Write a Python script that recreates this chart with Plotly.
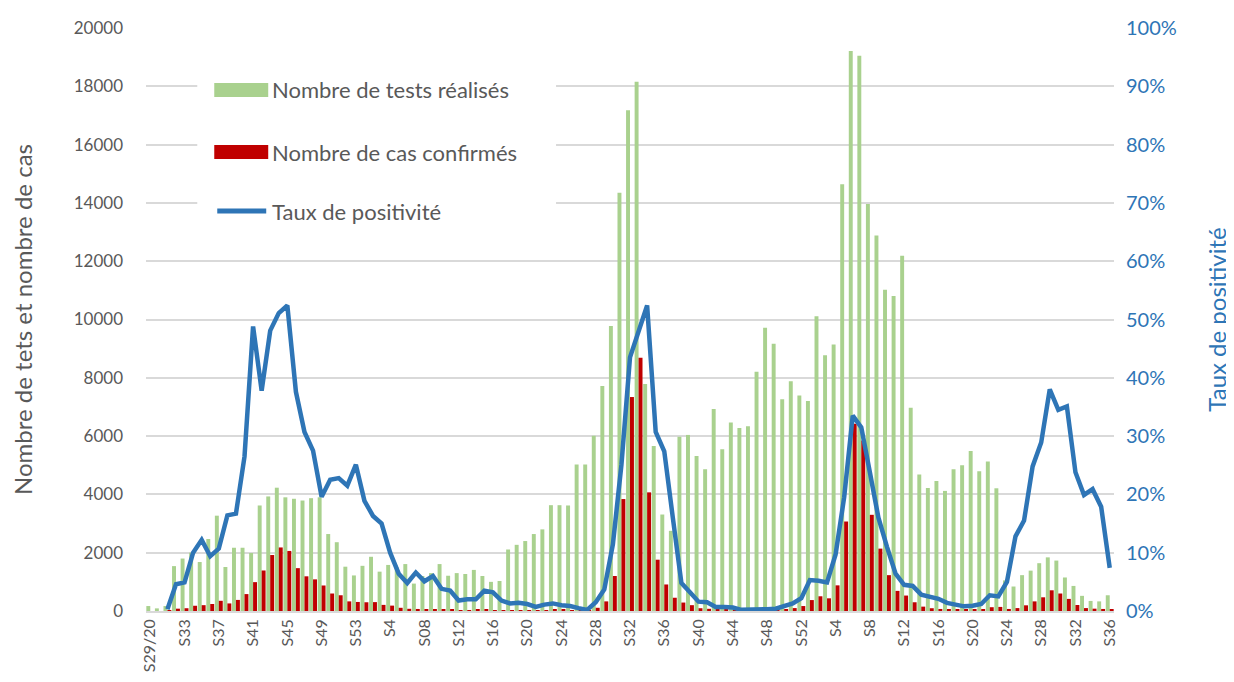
import plotly.graph_objects as go

# ---------------- data ----------------
weeks = ([f"S{w}/20" for w in range(29, 54)] +
         [f"S{w}/21" for w in range(1, 53)] +
         [f"S{w}/22" for w in range(1, 37)])

tick_labels = ["S29/20", "S33", "S37", "S41", "S45", "S49", "S53", "S4", "S08", "S12",
               "S16", "S20", "S24", "S28", "S32", "S36", "S40", "S44", "S48", "S52",
               "S4", "S8", "S12", "S16", "S20", "S24", "S28", "S32", "S36"]

tests = [170, 90, 170, 1540, 1800, 2000, 1680, 2470, 3270, 1510,
         2170, 2170, 1990, 3620, 3930, 4230, 3900, 3850, 3790, 3870,
         3900, 2640, 2360, 1520, 1220, 1550, 1860, 1350, 1580, 1500,
         1610, 940, 1200, 1300, 1610, 1210, 1300, 1270, 1410, 1200,
         1000, 1030, 2110, 2270, 2400, 2640, 2800, 3630, 3630, 3620,
         5030, 5030, 6010, 7720, 9780, 14350, 17180, 18160, 7790, 5660,
         3310, 2750, 5975, 6040, 5320, 4860, 6930, 5550, 6470, 6280,
         6340, 8210, 9720, 9170, 7260, 7880, 7390, 7200, 10110, 8770,
         9140, 14640, 19210, 19050, 13960, 12880, 11020, 10810, 12190, 6970,
         4680, 4220, 4460, 4120, 4860, 5000, 5490, 4790, 5130, 4210,
         1050, 840, 1230, 1385, 1640, 1840, 1730, 1150, 860, 520,
         345, 330, 540]

cases = [0, 0, 10, 80, 95, 180, 200, 240, 350, 260,
         380, 580, 990, 1390, 1920, 2180, 2060, 1470, 1190, 1085,
         875, 600, 540, 330, 310, 300, 305, 210, 185, 110,
         75, 70, 55, 55, 50, 40, 30, 30, 35, 35,
         30, 25, 25, 20, 25, 20, 30, 50, 40, 30,
         20, 15, 110, 330, 1200, 3840, 7340, 8690, 4070, 1760,
         910, 455, 290, 200, 95, 75, 45, 40, 30, 15,
         15, 20, 30, 40, 55, 100, 170, 375, 505, 435,
         880, 3070, 6420, 5850, 3300, 2140, 1230, 690, 530, 300,
         150, 95, 70, 55, 45, 40, 45, 60, 130, 140,
         70, 100, 195, 330, 470, 710, 600, 415, 205, 100,
         80, 70, 45]

positivity = [None, None, 0.3, 4.6, 4.9, 10.0, 12.2, 9.4, 10.7, 16.4,
              16.7, 26.5, 48.8, 37.8, 48.1, 51.1, 52.4, 37.6, 30.7, 27.5,
              19.6, 22.5, 22.8, 21.5, 25.1, 18.9, 16.3, 15.0, 10.0, 6.4,
              4.8, 6.6, 5.1, 6.0, 3.8, 3.5, 1.8, 2.0, 2.0, 3.5,
              3.2, 1.8, 1.3, 1.4, 1.2, 0.7, 1.1, 1.3, 1.0, 0.85,
              0.5, 0.2, 1.5, 3.7, 11.4, 25.1, 43.5, 47.8, 52.4, 30.7,
              27.4, 16.0, 4.8, 3.2, 1.6, 1.5, 0.7, 0.7, 0.6, 0.2,
              0.2, 0.2, 0.3, 0.4, 0.8, 1.3, 2.2, 5.3, 5.2, 4.9,
              9.7, 19.5, 33.5, 31.5, 23.8, 16.0, 11.0, 6.4, 4.5, 4.3,
              2.8, 2.4, 2.1, 1.4, 1.1, 0.8, 0.9, 1.2, 2.7, 2.5,
              5.0, 12.8, 15.5, 24.8, 28.9, 38.0, 34.5, 35.1, 23.8, 19.9,
              20.9, 17.9, 7.4]

series_names = ["Nombre de tests réalisés", "Nombre de cas confirmés", "Taux de positivité"]

# ---------------- style ----------------
GREEN = "#A9D18E"
RED = "#C00000"
BLUE = "#2E75B6"
GREY = "#595959"
GRID = "#D9D9D9"
FONT = "Lato"

OFF = 8                     # page body margin in the browser
W, H = 1234 - OFF, 682 - OFF
# plot area wanted in window pixels: x 145.7..1114.3, y 28..611
L = 145.7 - OFF
T = 28 - OFF
R = W - (1114.3 - OFF)
B = H - (611 - OFF)
pw, ph = W - L - R, H - T - B


def px(x):                  # window pixel x -> paper
    return (x - OFF - L) / pw


def py(y):                  # window pixel y -> paper
    return (H - B - (y - OFF)) / ph


fig = go.Figure()
fig.add_trace(go.Bar(x=weeks, y=tests, name=series_names[0], marker_color=GREEN,
                     marker_line_width=0, showlegend=False))
fig.add_trace(go.Bar(x=weeks, y=cases, name=series_names[1], marker_color=RED,
                     marker_line_width=0, showlegend=False))
fig.add_trace(go.Scatter(x=weeks, y=[None if v is None else v / 100 for v in positivity],
                         name=series_names[2], yaxis="y2", mode="lines",
                         line=dict(color=BLUE, width=4.5), showlegend=False))

# manual legend (white box hiding gridlines, patches, labels)
shapes = [
    dict(type="rect", xref="paper", yref="paper", x0=px(197), x1=px(556), y0=py(232), y1=py(62),
         fillcolor="white", line_width=0, layer="above"),
    dict(type="rect", xref="paper", yref="paper", x0=px(214), x1=px(268), y0=py(97), y1=py(83),
         fillcolor=GREEN, line_width=0, layer="above"),
    dict(type="rect", xref="paper", yref="paper", x0=px(214), x1=px(268), y0=py(159), y1=py(145),
         fillcolor=RED, line_width=0, layer="above"),
    dict(type="line", xref="paper", yref="paper", x0=px(217), x1=px(266), y0=py(211), y1=py(211),
         line=dict(color=BLUE, width=5), layer="above"),
]
annotations = []
for name, yy in zip(series_names, [90, 152, 211]):
    annotations.append(dict(text=name, xref="paper", yref="paper", x=px(270), y=py(yy),
                            xanchor="left", yanchor="middle", showarrow=False,
                            font=dict(family=FONT, size=22, color=GREY)))

fig.update_layout(
    width=W, height=H,
    margin=dict(l=L, r=R, t=T, b=B, autoexpand=False),
    paper_bgcolor="white", plot_bgcolor="white",
    barmode="group", bargap=0.08, bargroupgap=0,
    font=dict(family=FONT, color=GREY),
    shapes=shapes, annotations=annotations,
    xaxis=dict(type="category", tickmode="array", tickvals=weeks[::4], ticktext=tick_labels,
               tickangle=-90, tickfont=dict(size=16, color=GREY), showgrid=False,
               showline=True, linecolor=GRID, linewidth=1.5, ticks="", zeroline=False,
               automargin=False),
    yaxis=dict(range=[0, 20000], dtick=2000, tickformat="d", showgrid=True, gridcolor=GRID,
               gridwidth=1.5, tickfont=dict(size=17, color=GREY), ticks="", zeroline=False,
               showline=False, automargin=False, ticklabelstandoff=22,
               title=dict(text="Nombre de tets et nombre de cas",
                          font=dict(size=24, color=GREY), standoff=34)),
    yaxis2=dict(range=[0, 1], dtick=0.1, tickformat=".0%", overlaying="y", side="right",
                showgrid=False, zeroline=False, ticks="", tickfont=dict(size=20, color=BLUE),
                automargin=False, ticklabelstandoff=11,
                title=dict(text="Taux de positivité", font=dict(size=24, color=BLUE), standoff=33)),
)

fig.write_html("out.html")
